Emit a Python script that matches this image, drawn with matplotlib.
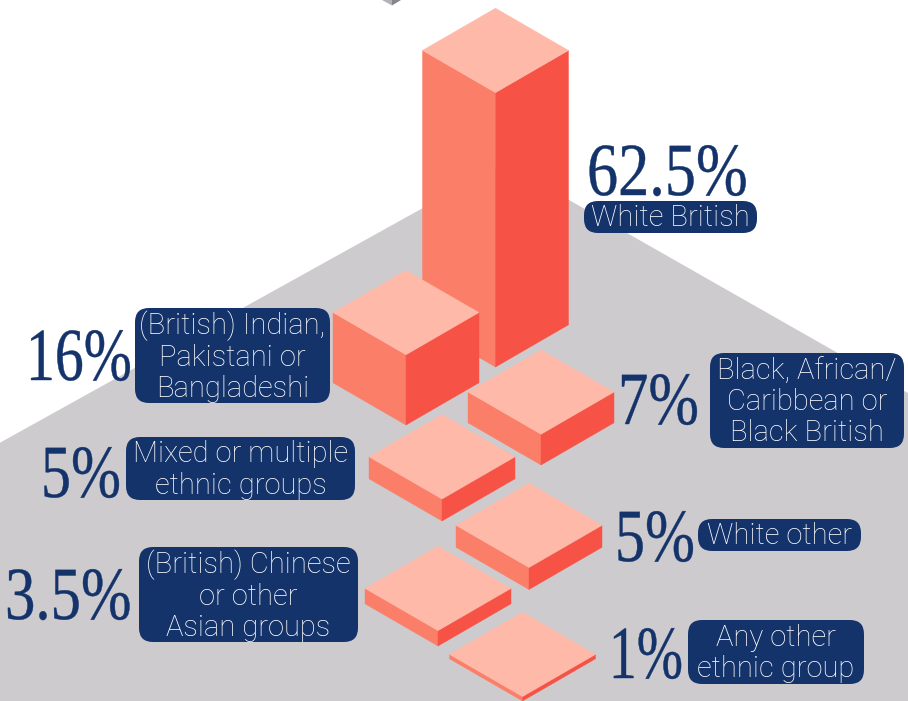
import matplotlib.pyplot as plt
from matplotlib.patches import FancyBboxPatch, Polygon
from matplotlib.patheffects import AbstractPathEffect
from matplotlib.transforms import Affine2D

# Share of the population by ethnic group
shares = [62.5, 16, 7, 5, 5, 3.5, 1]
share_labels = ['62.5%', '16%', '7%', '5%', '5%', '3.5%', '1%']
groups = [
    'White British',
    '(British) Indian,\nPakistani or\nBangladeshi',
    'Black, African/\nCaribbean or\nBlack British',
    'Mixed or multiple\nethnic groups',
    'White other',
    '(British) Chinese\nor other\nAsian groups',
    'Any other\nethnic group',
]

# Layout, in pixels
W, H = 908, 701
HALF_W, HALF_H = 73, 42.2
PX_PER_PCT = 4.39
front_x = [495.5, 406, 541, 442, 529, 438, 522.5]
front_y = [367, 425, 465, 521, 589.5, 646, 701]

# x0, y0, x1, y1 of each label box
boxes = [
    (584, 201, 757, 233),
    (135, 308, 330, 403),
    (710, 353, 904, 448),
    (126, 437, 355, 500),
    (698, 519, 861, 551),
    (139, 547, 358, 642),
    (688, 620, 864, 684),
]
# left edge and baseline of the big numbers, plus horizontal squeeze
number_pos = [
    (587, 195, 0.83),
    (26, 380, 0.77),
    (618, 424, 0.81),
    (41, 497, 0.80),
    (615, 561, 0.80),
    (5, 619, 0.81),
    (609, 678, 0.74),
]

NAVY = '#14336a'
FLOOR = '#cdcbce'
TOP = '#feb9a9'
LEFT = '#fb7f68'
RIGHT = '#f65246'

plt.rcParams['font.family'] = ['Roboto', 'DejaVu Sans']


class Squeeze(AbstractPathEffect):
    # narrows glyphs around the text origin and thickens them slightly
    def __init__(self, sx, lw=0.3):
        super().__init__()
        self.sx = sx
        self.lw = lw

    def draw_path(self, renderer, gc, tpath, affine, rgbFace=None):
        gc0 = renderer.new_gc()
        gc0.copy_properties(gc)
        gc0.set_linewidth(self.lw)
        gc0.set_foreground(rgbFace)
        renderer.draw_path(gc0, tpath, Affine2D().scale(self.sx, 1) + affine, rgbFace)
        gc0.restore()


fig = plt.figure(figsize=(W / 100, H / 100), dpi=100)
ax = fig.add_axes([0, 0, 1, 1])
ax.set_xlim(0, W)
ax.set_ylim(H, 0)
ax.axis('off')

# Floor diamond, runs off the bottom and both sides
ax.add_patch(Polygon([(0, 442.7), (504, 163), (908, 393), (908, 701), (0, 701)],
                     facecolor=FLOOR, edgecolor='none', zorder=1))
# Corner of the box peeking in at the top
ax.add_patch(Polygon([(382, 0), (392, 5.5), (392, 0)], facecolor='#b4b2b6', edgecolor='none', zorder=1))
ax.add_patch(Polygon([(392, 0), (392, 5.5), (401, 0)], facecolor='#85878c', edgecolor='none', zorder=1))


def draw_bar(x, y, value, z):
    h = value * PX_PER_PCT
    left = [(x - HALF_W, y - HALF_H), (x, y), (x, y - h), (x - HALF_W, y - HALF_H - h)]
    right = [(x + HALF_W, y - HALF_H), (x, y), (x, y - h), (x + HALF_W, y - HALF_H - h)]
    top = [(x, y - h), (x - HALF_W, y - h - HALF_H), (x, y - h - 2 * HALF_H), (x + HALF_W, y - h - HALF_H)]
    ax.add_patch(Polygon(left, facecolor=LEFT, edgecolor=LEFT, lw=0.3, zorder=z))
    ax.add_patch(Polygon(right, facecolor=RIGHT, edgecolor=RIGHT, lw=0.3, zorder=z))
    ax.add_patch(Polygon(top, facecolor=TOP, edgecolor=TOP, lw=0.3, zorder=z))


for i in range(len(shares)):
    draw_bar(front_x[i], front_y[i], shares[i], 2 + i)

for i, (x0, y0, x1, y1) in enumerate(boxes):
    r = min(14, (y1 - y0) / 2)
    ax.add_patch(FancyBboxPatch((x0 + r, y0 + r), x1 - x0 - 2 * r, y1 - y0 - 2 * r,
                                boxstyle=f'round,pad={r},rounding_size={r}',
                                facecolor=NAVY, edgecolor='none', zorder=20))
    ax.text((x0 + x1) / 2, (y0 + y1) / 2 + 1.5, groups[i], color='white', fontsize=21,
            fontweight='light', ha='center', va='center', linespacing=1.14, zorder=21)

    nx, ny, sx = number_pos[i]
    ax.text(nx, ny, share_labels[i], color=NAVY, fontsize=54, family='Liberation Serif',
            ha='left', va='baseline', zorder=21, path_effects=[Squeeze(sx)])

fig.savefig('out.png', dpi=100)
